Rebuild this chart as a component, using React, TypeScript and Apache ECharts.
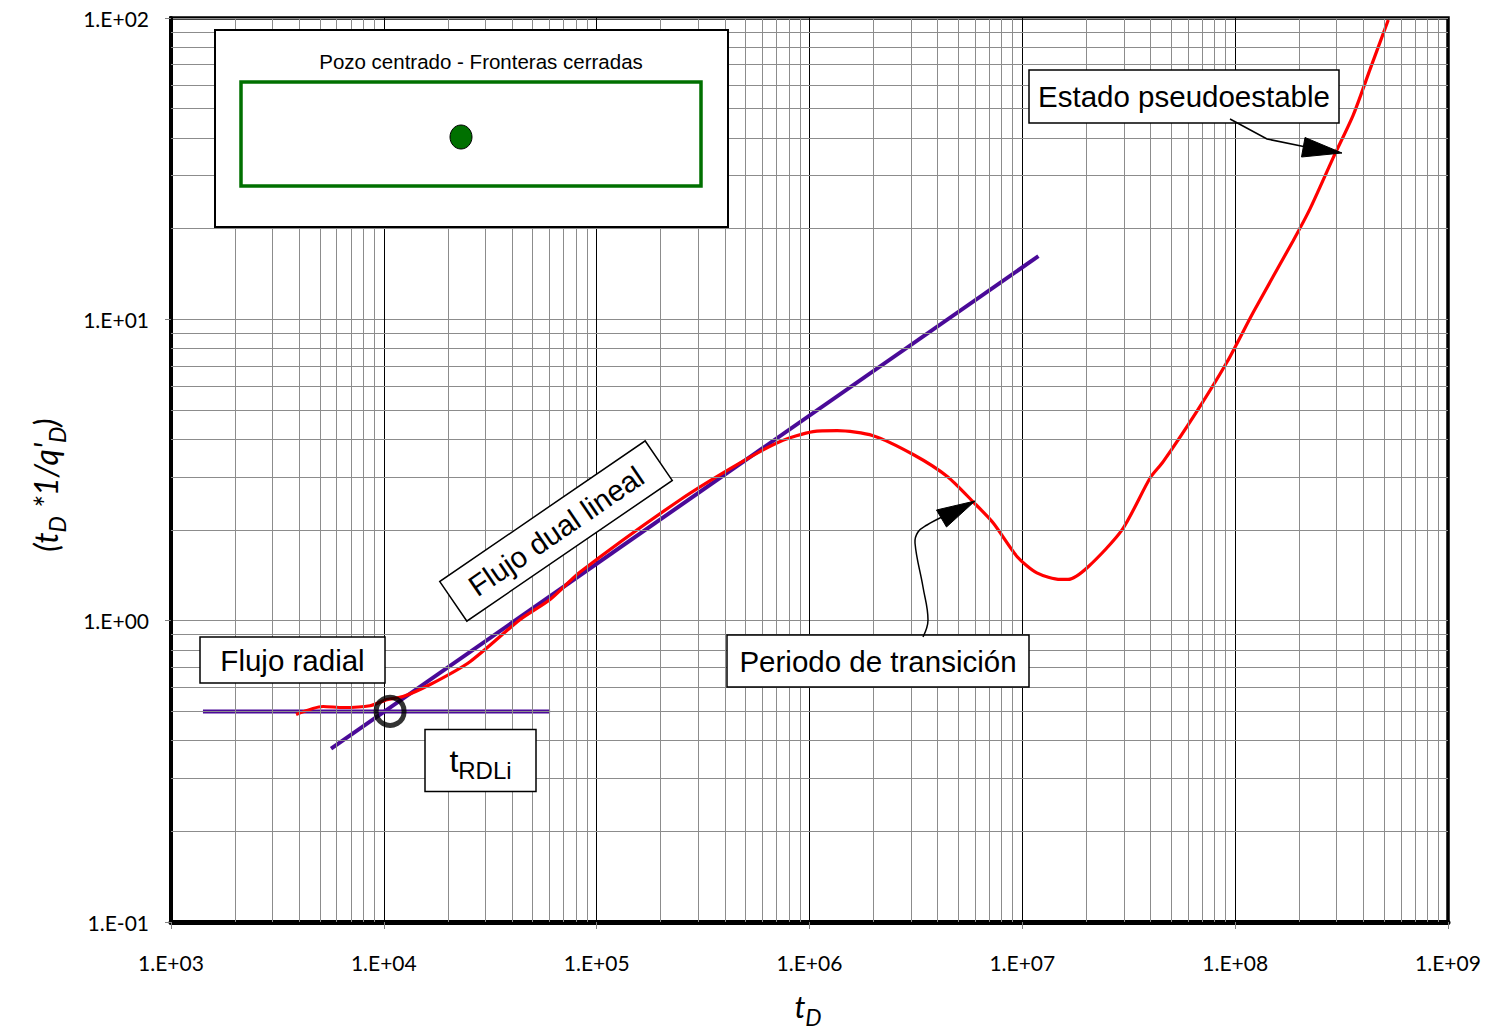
import React, { useEffect, useRef } from "react";
import * as echarts from "echarts";

// ---- Data ----
const xTickLabels = ["1.E+03", "1.E+04", "1.E+05", "1.E+06", "1.E+07", "1.E+08", "1.E+09"];
const yTickLabels = ["1.E-01", "1.E+00", "1.E+01", "1.E+02"];

// red curve: t_D and (t_D*1/q'_D)
const redT = [3.87e3, 5.18e3, 6.43e3, 8.61e3, 1.035e4, 1.23e4, 1.65e4, 2.54e4, 4.36e4, 6.04e4, 8.36e4,
  2.47e5, 4.72e5, 7.28e5, 1.04e6, 1.35e6, 1.99e6, 3.07e6, 4.44e6, 5.87e6, 7.3e6, 9.46e6, 1.17e7,
  1.51e7, 1.64e7, 2.04e7, 2.94e7, 3.99e7, 4.59e7, 6.63e7, 9.17e7, 1.22e8, 1.87e8, 2.25e8, 2.89e8,
  3.59e8, 4.31e8, 5.24e8];
const redV = [0.488, 0.519, 0.515, 0.522, 0.547, 0.56, 0.614, 0.731, 1.007, 1.175, 1.45,
  2.52, 3.34, 3.93, 4.24, 4.27, 4.11, 3.56, 3.01, 2.48, 2.11, 1.63, 1.44,
  1.37, 1.37, 1.51, 2.0, 2.98, 3.37, 4.97, 7.23, 10.6, 18.2, 23.3, 34.4,
  47.7, 67.8, 98.5];

// straight lines
const radialT = [1413, 60400];
const radialV = [0.5, 0.5];
const dualT = [5650, 1.19e7];
const dualV = [0.376, 16.2];
// intersection t_RDLi
const intersectT = [1.07e4];
const intersectV = [0.5];

const xDecades = [3, 4, 5, 6, 7, 8];
const yDecades = [-1, 0, 1];
const minorMults = [2, 3, 4, 5, 6, 7, 8, 9];

const LABEL_FONT = "Lato, 'Open Sans', sans-serif";
const TEXT_FONT = "'Liberation Sans', Arial, sans-serif";
const ZT = 100;
const BOX_FONT = 29.5;

export default function App() {
  const ref = useRef<HTMLDivElement>(null);

  useEffect(() => {
    if (!ref.current) return;
    const chart = echarts.init(ref.current, null, { renderer: "svg" });

    const minorX: any[] = [];
    xDecades.forEach((d) => minorMults.forEach((m) => minorX.push({ xAxis: m * Math.pow(10, d) })));
    const minorY: any[] = [];
    yDecades.forEach((d) => minorMults.forEach((m) => minorY.push({ yAxis: m * Math.pow(10, d) })));

    const pair = (a: number[], b: number[]) => a.map((t, i) => [t, b[i]]);

    const labelFmt = (labels: string[], offset: number) => (v: number) => {
      const i = Math.round(Math.log10(v)) - offset;
      return labels[i] ?? "";
    };

    const boxText = (cx: number, cy: number, w: number, h: number, text: any, rich?: any) => ({
      type: "group",
      x: cx,
      y: cy,
      z: ZT,
      children: [
        { type: "rect", z: ZT, shape: { x: -w / 2, y: -h / 2, width: w, height: h }, style: { fill: "#fff", stroke: "#000", lineWidth: 1.5 } },
        {
          type: "text",
          z: ZT + 1,
          x: 0,
          y: 0,
          style: { text, fontSize: BOX_FONT, fontFamily: TEXT_FONT, fill: "#000", align: "center", verticalAlign: "middle", rich },
        },
      ],
    });

    chart.setOption({
      animation: false,
      backgroundColor: "#fff",
      grid: { left: 171, right: 40, top: 18, bottom: 108, show: true, borderColor: "#000", borderWidth: 3.5, backgroundColor: "transparent" },
      xAxis: {
        type: "log",
        logBase: 10,
        min: 1e3,
        max: 1e9,
        splitNumber: 6,
        axisLine: { show: true, onZero: false, lineStyle: { color: "#000", width: 5 } },
        axisTick: { show: true, length: 7, lineStyle: { color: "#808080", width: 1 } },
        axisLabel: { formatter: labelFmt(xTickLabels, 3), margin: 30, fontSize: 21, fontFamily: LABEL_FONT, color: "#000" },
        splitLine: { show: true, lineStyle: { color: "#000", width: 1 } },
        minorTick: { show: false },
        minorSplitLine: { show: false },
      },
      yAxis: {
        type: "log",
        logBase: 10,
        min: 0.1,
        max: 100,
        splitNumber: 3,
        axisLine: { show: true, onZero: false, lineStyle: { color: "#000", width: 4 } },
        axisTick: { show: true, length: 6, lineStyle: { color: "#808080", width: 1 } },
        axisLabel: { formatter: labelFmt(yTickLabels, -1), margin: 22, fontSize: 21, fontFamily: LABEL_FONT, color: "#000" },
        splitLine: { show: true, lineStyle: { color: "#8c8c8c", width: 1 } },
        minorTick: { show: false },
        minorSplitLine: { show: false },
      },
      series: [
        {
          name: "grid",
          type: "line",
          data: [[1e3, 1]],
          showSymbol: false,
          symbol: "none",
          silent: true,
          lineStyle: { opacity: 0 },
          z: 1,
          markLine: {
            silent: true,
            symbol: ["none", "none"],
            label: { show: false },
            lineStyle: { color: "#8c8c8c", width: 1, type: "solid" },
            emphasis: { disabled: true },
            data: [...minorX, ...minorY],
          },
        },
        {
          name: "radial",
          type: "line",
          data: pair(radialT, radialV),
          symbol: "none",
          lineStyle: { color: "#4a0a98", width: 4 },
          z: 3,
        },
        {
          name: "dual",
          type: "line",
          data: pair(dualT, dualV),
          symbol: "none",
          lineStyle: { color: "#4a0a98", width: 4 },
          z: 3,
        },
        {
          name: "curve",
          type: "line",
          data: pair(redT, redV),
          symbol: "none",
          smooth: 0.25,
          lineStyle: { color: "#ff0000", width: 3.2 },
          z: 4,
        },
        {
          name: "tRDLi",
          type: "scatter",
          data: pair(intersectT, intersectV),
          symbol: "circle",
          symbolSize: 28,
          itemStyle: { color: "rgba(0,0,0,0)", borderColor: "#000", borderWidth: 5 },
          z: 5,
        },
      ],
      graphic: [
        // inset box
        {
          type: "group",
          z: ZT,
          children: [
            { type: "rect", z: ZT, shape: { x: 215, y: 30, width: 513, height: 197 }, style: { fill: "#fff", stroke: "#000", lineWidth: 2 } },
            {
              type: "text",
              z: ZT + 1,
              x: 481,
              y: 61,
              style: { text: "Pozo centrado - Fronteras cerradas", fontSize: 20.5, fontFamily: TEXT_FONT, fill: "#000", align: "center", verticalAlign: "middle" },
            },
            { type: "rect", z: ZT + 1, shape: { x: 241, y: 82, width: 460, height: 104 }, style: { fill: "none", stroke: "#007000", lineWidth: 3.5 } },
            { type: "ellipse", z: ZT + 2, shape: { cx: 461, cy: 137, rx: 11, ry: 12 }, style: { fill: "#007000", stroke: "#000", lineWidth: 1 } },
          ],
        },
        boxText(292.5, 660, 185, 46, "Flujo radial"),
        boxText(1184, 96.5, 310, 53, "Estado pseudoestable"),
        boxText(878, 661, 302, 52, "Periodo de transición"),
        boxText(480.5, 760.5, 111, 62, "{m|t}{s|RDLi}", {
          m: { fontSize: 32, lineHeight: 44, fontFamily: TEXT_FONT, verticalAlign: "middle" },
          s: { fontSize: 24, fontFamily: TEXT_FONT, verticalAlign: "bottom" },
        }),
        // rotated box
        {
          type: "group",
          x: 556,
          y: 531,
          rotation: (34.4 * Math.PI) / 180,
          z: ZT,
          children: [
            { type: "rect", z: ZT, shape: { x: -124.5, y: -24, width: 249, height: 48 }, style: { fill: "#fff", stroke: "#000", lineWidth: 1.5 } },
            {
              type: "text",
              z: ZT + 1,
              x: 0,
              y: 0,
              style: { text: "Flujo dual lineal", fontSize: BOX_FONT, fontFamily: TEXT_FONT, fill: "#000", align: "center", verticalAlign: "middle" },
            },
          ],
        },
        // arrow: estado pseudoestable
        {
          type: "polyline",
          z: ZT + 2,
          shape: { points: [[1230, 119], [1267, 139], [1306, 147]] },
          style: { stroke: "#000", lineWidth: 1.5, fill: "none" },
        },
        {
          type: "polygon",
          z: ZT + 2,
          shape: { points: [[1342, 153], [1305, 137.5], [1301.5, 157]] },
          style: { fill: "#000", stroke: "#000", lineWidth: 1 },
        },
        // arrow: periodo de transicion
        {
          type: "polyline",
          z: ZT + 2,
          shape: { points: [[923, 637], [928, 620], [923, 587], [915, 543], [918, 532], [927, 525], [942, 517]], smooth: 0.4 },
          style: { stroke: "#000", lineWidth: 1.5, fill: "none" },
        },
        {
          type: "polygon",
          z: ZT + 2,
          shape: { points: [[975, 501], [936.5, 510], [946.5, 527]] },
          style: { fill: "#000", stroke: "#000", lineWidth: 1 },
        },
        // axis titles
        {
          type: "text",
          x: 45,
          y: 485,
          rotation: Math.PI / 2,
          z: ZT,
          style: {
            text: "{m|(t}{s|D}{m| *1/q'}{s|D}{m|)}",
            align: "center",
            verticalAlign: "middle",
            fill: "#000",
            rich: {
              m: { fontSize: 32, fontStyle: "italic", fontFamily: LABEL_FONT, lineHeight: 46, verticalAlign: "middle" },
              s: { fontSize: 23, fontStyle: "italic", fontFamily: LABEL_FONT, verticalAlign: "bottom" },
            },
          },
        },
        {
          type: "text",
          x: 808,
          y: 1006,
          z: ZT,
          style: {
            text: "{m|t}{s|D}",
            align: "center",
            verticalAlign: "middle",
            fill: "#000",
            rich: {
              m: { fontSize: 31, fontStyle: "italic", fontFamily: LABEL_FONT, lineHeight: 44, verticalAlign: "middle" },
              s: { fontSize: 23, fontStyle: "italic", fontFamily: LABEL_FONT, verticalAlign: "bottom" },
            },
          },
        },
      ],
    });

    return () => chart.dispose();
  }, []);

  return <div ref={ref} style={{ position: "absolute", left: 0, top: 0, width: 1488, height: 1030 }} />;
}
